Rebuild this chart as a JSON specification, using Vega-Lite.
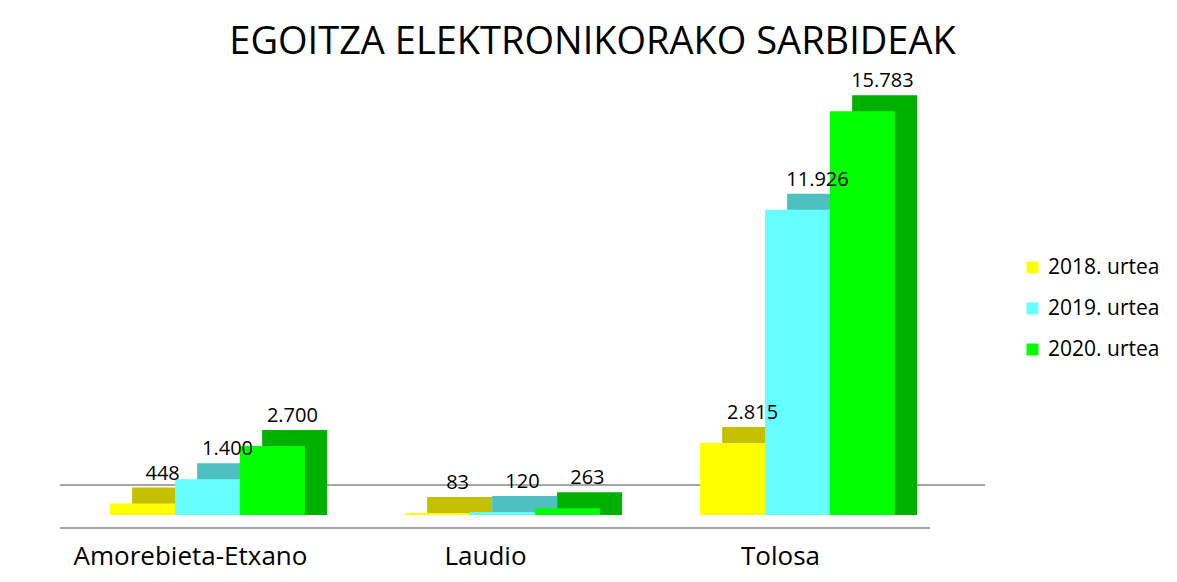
{
  "$schema": "https://vega.github.io/schema/vega-lite/v6.json",
  "autosize": {"type": "none"},
  "width": 885,
  "height": 435,
  "padding": {"left": 60, "top": 80, "right": 232, "bottom": 67},
  "background": "white",
  "config": {
    "view": {"stroke": null},
    "font": "Open Sans",
    "locale": {"number": {"decimal": ",", "thousands": ".", "grouping": [3], "currency": ["", " €"]}}
  },
  "title": {
    "text": "EGOITZA ELEKTRONIKORAKO SARBIDEAK",
    "fontSize": 38,
    "fontWeight": "normal",
    "color": "#000000",
    "anchor": "middle",
    "dx": 90,
    "offset": 9
  },
  "data": {
    "values": [
      {"herria": "Amorebieta-Etxano", "urtea": "2018. urtea", "balioa": 448},
      {"herria": "Amorebieta-Etxano", "urtea": "2019. urtea", "balioa": 1400},
      {"herria": "Amorebieta-Etxano", "urtea": "2020. urtea", "balioa": 2700},
      {"herria": "Laudio", "urtea": "2018. urtea", "balioa": 83},
      {"herria": "Laudio", "urtea": "2019. urtea", "balioa": 120},
      {"herria": "Laudio", "urtea": "2020. urtea", "balioa": 263},
      {"herria": "Tolosa", "urtea": "2018. urtea", "balioa": 2815},
      {"herria": "Tolosa", "urtea": "2019. urtea", "balioa": 11926},
      {"herria": "Tolosa", "urtea": "2020. urtea", "balioa": 15783}
    ]
  },
  "encoding": {
    "x": {
      "field": "herria",
      "type": "nominal",
      "sort": null,
      "scale": {"paddingInner": 0.34, "paddingOuter": 0.17},
      "axis": {
        "title": null,
        "labelAngle": 0,
        "labelFontSize": 26,
        "labelLimit": 400,
        "labelColor": "#000000",
        "labelOffset": -17,
        "labelPadding": 28,
        "domain": false,
        "ticks": false
      }
    },
    "y": {
      "field": "balioa",
      "type": "quantitative",
      "scale": {"domain": [0, 17000]},
      "axis": null
    }
  },
  "resolve": {"scale": {"xOffset": "independent", "color": "independent"}},
  "layer": [
    {
      "mark": {"type": "rule", "color": "#a6a6a6", "strokeWidth": 2, "yOffset": 13, "xOffset": -15},
      "encoding": {"x": null, "y": {"datum": 0, "type": "quantitative"}}
    },
    {
      "mark": {"type": "rule", "color": "#a6a6a6", "strokeWidth": 2, "yOffset": -30, "xOffset": 40},
      "encoding": {"x": null, "y": {"datum": 0, "type": "quantitative"}}
    },
    {
      "mark": {"type": "bar", "yOffset": -16, "y2Offset": 0.001},
      "encoding": {
        "y2": {"datum": 0},
        "xOffset": {"field": "urtea", "type": "nominal", "sort": null, "scale": {"paddingInner": 0, "paddingOuter": 0, "range": [22, 217]}},
        "color": {
          "field": "urtea",
          "type": "nominal",
          "scale": {"domain": ["2018. urtea", "2019. urtea", "2020. urtea"], "range": ["#c4c000", "#4fc0c0", "#00b000"]},
          "legend": null
        }
      }
    },
    {
      "layer": [
        {
          "mark": {"type": "bar"},
          "encoding": {
            "color": {
              "field": "urtea",
              "type": "nominal",
              "scale": {"domain": ["2018. urtea", "2019. urtea", "2020. urtea"], "range": ["#ffff00", "#66ffff", "#00ff00"]},
              "legend": {
                "title": null,
                "orient": "none",
                "legendX": 962,
                "legendY": 177,
                "symbolType": "square",
                "symbolSize": 144,
                "symbolStrokeWidth": 0,
                "labelFontSize": 21,
                "labelColor": "#000000",
                "rowPadding": 19,
                "labelOffset": 5
              }
            }
          }
        },
        {
          "mark": {"type": "text", "baseline": "bottom", "dx": 20, "dy": -20, "fontSize": 20, "color": "#000000"},
          "encoding": {"text": {"field": "balioa", "type": "quantitative", "format": ",d"}}
        }
      ],
      "encoding": {
        "xOffset": {"field": "urtea", "type": "nominal", "sort": null, "scale": {"paddingInner": 0, "paddingOuter": 0}}
      }
    }
  ]
}
